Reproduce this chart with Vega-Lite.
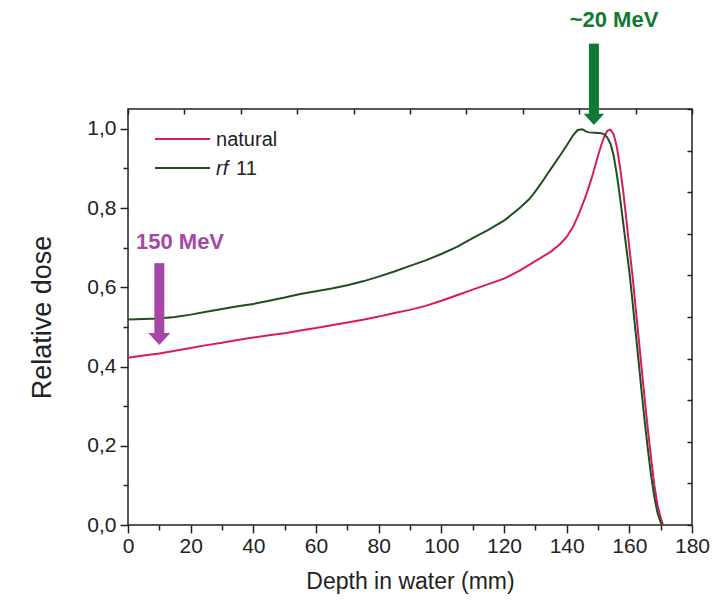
{
  "$schema": "https://vega.github.io/schema/vega-lite/v6.json",
  "width": 564,
  "height": 416,
  "autosize": {"type": "none"},
  "padding": {"left": 128, "top": 109, "right": 32, "bottom": 87},
  "background": "white",
  "config": {
    "view": {"stroke": "#222222", "strokeWidth": 1.5},
    "font": "Liberation Sans",
    "axis": {
      "domain": false,
      "grid": false,
      "tickColor": "#222222",
      "tickWidth": 1.5,
      "labelColor": "#222222",
      "labelFont": "Liberation Sans",
      "labelFontSize": 21,
      "titleFont": "Liberation Sans",
      "titleFontSize": 23,
      "titleFontWeight": "normal",
      "titleColor": "#222222"
    }
  },
  "datasets": {
    "curves": [
      {"depth": 0, "dose": 0.422, "series": "natural"},
      {"depth": 5, "dose": 0.428, "series": "natural"},
      {"depth": 10, "dose": 0.433, "series": "natural"},
      {"depth": 15, "dose": 0.44, "series": "natural"},
      {"depth": 20, "dose": 0.447, "series": "natural"},
      {"depth": 25, "dose": 0.454, "series": "natural"},
      {"depth": 30, "dose": 0.46, "series": "natural"},
      {"depth": 35, "dose": 0.467, "series": "natural"},
      {"depth": 40, "dose": 0.473, "series": "natural"},
      {"depth": 45, "dose": 0.479, "series": "natural"},
      {"depth": 50, "dose": 0.484, "series": "natural"},
      {"depth": 55, "dose": 0.491, "series": "natural"},
      {"depth": 60, "dose": 0.497, "series": "natural"},
      {"depth": 65, "dose": 0.504, "series": "natural"},
      {"depth": 70, "dose": 0.511, "series": "natural"},
      {"depth": 75, "dose": 0.518, "series": "natural"},
      {"depth": 80, "dose": 0.526, "series": "natural"},
      {"depth": 85, "dose": 0.535, "series": "natural"},
      {"depth": 90, "dose": 0.543, "series": "natural"},
      {"depth": 95, "dose": 0.553, "series": "natural"},
      {"depth": 100, "dose": 0.566, "series": "natural"},
      {"depth": 105, "dose": 0.58, "series": "natural"},
      {"depth": 110, "dose": 0.594, "series": "natural"},
      {"depth": 115, "dose": 0.608, "series": "natural"},
      {"depth": 120, "dose": 0.622, "series": "natural"},
      {"depth": 125, "dose": 0.642, "series": "natural"},
      {"depth": 130, "dose": 0.666, "series": "natural"},
      {"depth": 135, "dose": 0.69, "series": "natural"},
      {"depth": 138, "dose": 0.71, "series": "natural"},
      {"depth": 140, "dose": 0.727, "series": "natural"},
      {"depth": 142, "dose": 0.752, "series": "natural"},
      {"depth": 144, "dose": 0.787, "series": "natural"},
      {"depth": 146, "dose": 0.828, "series": "natural"},
      {"depth": 148, "dose": 0.876, "series": "natural"},
      {"depth": 150, "dose": 0.932, "series": "natural"},
      {"depth": 151, "dose": 0.958, "series": "natural"},
      {"depth": 152, "dose": 0.98, "series": "natural"},
      {"depth": 153, "dose": 0.995, "series": "natural"},
      {"depth": 154, "dose": 0.998, "series": "natural"},
      {"depth": 155, "dose": 0.986, "series": "natural"},
      {"depth": 156, "dose": 0.955, "series": "natural"},
      {"depth": 157, "dose": 0.905, "series": "natural"},
      {"depth": 158, "dose": 0.845, "series": "natural"},
      {"depth": 159, "dose": 0.775, "series": "natural"},
      {"depth": 160, "dose": 0.7, "series": "natural"},
      {"depth": 161, "dose": 0.63, "series": "natural"},
      {"depth": 162, "dose": 0.55, "series": "natural"},
      {"depth": 163, "dose": 0.47, "series": "natural"},
      {"depth": 164, "dose": 0.39, "series": "natural"},
      {"depth": 165, "dose": 0.31, "series": "natural"},
      {"depth": 166, "dose": 0.235, "series": "natural"},
      {"depth": 167, "dose": 0.165, "series": "natural"},
      {"depth": 168, "dose": 0.1, "series": "natural"},
      {"depth": 169, "dose": 0.05, "series": "natural"},
      {"depth": 170, "dose": 0.018, "series": "natural"},
      {"depth": 170.8, "dose": 0.0, "series": "natural"},
      {"depth": 0, "dose": 0.519, "series": "rf11"},
      {"depth": 5, "dose": 0.52, "series": "rf11"},
      {"depth": 10, "dose": 0.521, "series": "rf11"},
      {"depth": 15, "dose": 0.525, "series": "rf11"},
      {"depth": 20, "dose": 0.531, "series": "rf11"},
      {"depth": 25, "dose": 0.538, "series": "rf11"},
      {"depth": 30, "dose": 0.545, "series": "rf11"},
      {"depth": 35, "dose": 0.552, "series": "rf11"},
      {"depth": 40, "dose": 0.558, "series": "rf11"},
      {"depth": 45, "dose": 0.566, "series": "rf11"},
      {"depth": 50, "dose": 0.574, "series": "rf11"},
      {"depth": 55, "dose": 0.583, "series": "rf11"},
      {"depth": 60, "dose": 0.59, "series": "rf11"},
      {"depth": 65, "dose": 0.597, "series": "rf11"},
      {"depth": 70, "dose": 0.605, "series": "rf11"},
      {"depth": 75, "dose": 0.615, "series": "rf11"},
      {"depth": 80, "dose": 0.627, "series": "rf11"},
      {"depth": 85, "dose": 0.64, "series": "rf11"},
      {"depth": 90, "dose": 0.654, "series": "rf11"},
      {"depth": 95, "dose": 0.668, "series": "rf11"},
      {"depth": 100, "dose": 0.684, "series": "rf11"},
      {"depth": 105, "dose": 0.702, "series": "rf11"},
      {"depth": 110, "dose": 0.724, "series": "rf11"},
      {"depth": 115, "dose": 0.745, "series": "rf11"},
      {"depth": 120, "dose": 0.768, "series": "rf11"},
      {"depth": 125, "dose": 0.8, "series": "rf11"},
      {"depth": 128, "dose": 0.822, "series": "rf11"},
      {"depth": 130, "dose": 0.842, "series": "rf11"},
      {"depth": 132, "dose": 0.864, "series": "rf11"},
      {"depth": 134, "dose": 0.888, "series": "rf11"},
      {"depth": 136, "dose": 0.911, "series": "rf11"},
      {"depth": 138, "dose": 0.934, "series": "rf11"},
      {"depth": 140, "dose": 0.958, "series": "rf11"},
      {"depth": 142, "dose": 0.983, "series": "rf11"},
      {"depth": 143.5, "dose": 0.997, "series": "rf11"},
      {"depth": 145, "dose": 0.999, "series": "rf11"},
      {"depth": 146, "dose": 0.994, "series": "rf11"},
      {"depth": 147, "dose": 0.991, "series": "rf11"},
      {"depth": 149, "dose": 0.99, "series": "rf11"},
      {"depth": 151, "dose": 0.989, "series": "rf11"},
      {"depth": 152, "dose": 0.986, "series": "rf11"},
      {"depth": 153, "dose": 0.978, "series": "rf11"},
      {"depth": 154, "dose": 0.962, "series": "rf11"},
      {"depth": 155, "dose": 0.932, "series": "rf11"},
      {"depth": 156, "dose": 0.885, "series": "rf11"},
      {"depth": 157, "dose": 0.828, "series": "rf11"},
      {"depth": 158, "dose": 0.765, "series": "rf11"},
      {"depth": 159, "dose": 0.702, "series": "rf11"},
      {"depth": 160, "dose": 0.64, "series": "rf11"},
      {"depth": 161, "dose": 0.565, "series": "rf11"},
      {"depth": 162, "dose": 0.488, "series": "rf11"},
      {"depth": 163, "dose": 0.41, "series": "rf11"},
      {"depth": 164, "dose": 0.33, "series": "rf11"},
      {"depth": 165, "dose": 0.255, "series": "rf11"},
      {"depth": 166, "dose": 0.185, "series": "rf11"},
      {"depth": 167, "dose": 0.122, "series": "rf11"},
      {"depth": 168, "dose": 0.07, "series": "rf11"},
      {"depth": 169, "dose": 0.03, "series": "rf11"},
      {"depth": 170.3, "dose": 0.0, "series": "rf11"}
    ],
    "legendLines": [
      {"x1": 8.6, "x2": 26.2, "y": 0.974, "series": "natural"},
      {"x1": 8.6, "x2": 26.2, "y": 0.901, "series": "rf11"}
    ],
    "legendPlain": [
      {"x": 28.1, "y": 0.972, "label": "natural"},
      {"x": 34.5, "y": 0.899, "label": "11"}
    ],
    "legendItalic": [
      {"x": 28.1, "y": 0.899, "label": "rf"}
    ],
    "purpleArrow": [
      {"x": 10.0, "top": 0.661, "bottom": 0.478, "head": 0.4697, "label": "150 MeV", "ly": 0.715, "lx": 16.6}
    ],
    "greenArrow": [
      {"x": 148.7, "top": 1.215, "bottom": 1.03, "head": 1.024, "label": "~20 MeV", "ly": 1.275, "lx": 155.1}
    ]
  },
  "resolve": {"axis": {"x": "independent", "y": "independent"}},
  "layer": [
    {
      "data": {"name": "curves"},
      "mark": {"type": "line", "strokeWidth": 2, "clip": false},
      "encoding": {
        "x": {
          "field": "depth", "type": "quantitative",
          "scale": {"domain": [0, 180], "nice": false, "zero": false},
          "axis": {
            "orient": "bottom",
            "values": [0, 10, 20, 30, 40, 50, 60, 70, 80, 90, 100, 110, 120, 130, 140, 150, 160, 170, 180],
            "labelExpr": "datum.value % 20 === 0 ? datum.label : ''",
            "tickSize": {"condition": {"test": "datum.value % 20 === 0", "value": 8}, "value": 5},
            "labelPadding": 2,
            "labelFlush": false,
            "title": "Depth in water (mm)",
            "titlePadding": 14
          }
        },
        "y": {
          "field": "dose", "type": "quantitative",
          "scale": {"domain": [0, 1.05], "nice": false, "zero": false},
          "axis": {
            "orient": "left",
            "values": [0, 0.1, 0.2, 0.3, 0.4, 0.5, 0.6, 0.7, 0.8, 0.9, 1.0],
            "format": ".1f",
            "labelExpr": "round(datum.value * 10) % 2 === 0 ? replace(datum.label, '.', ',') : ''",
            "tickSize": {"condition": {"test": "round(datum.value * 10) % 2 === 0", "value": 8}, "value": 5},
            "labelPadding": 4,
            "labelFlush": false,
            "title": "Relative dose",
            "titleFontSize": 27,
            "titlePadding": 30
          }
        },
        "color": {
          "field": "series", "type": "nominal",
          "scale": {"domain": ["natural", "rf11"], "range": ["#d81b60", "#1f4f1f"]},
          "legend": null
        }
      }
    },
    {
      "data": {"name": "legendLines"},
      "mark": {"type": "rule", "strokeWidth": 2},
      "encoding": {
        "x": {
          "field": "x1", "type": "quantitative",
          "scale": {"domain": [0, 180], "nice": false, "zero": false},
          "axis": {
            "orient": "top",
            "values": [0, 18, 36, 54, 72, 90, 108, 126, 144, 162, 180],
            "labels": false,
            "tickSize": -5,
            "title": null
          }
        },
        "x2": {"field": "x2"},
        "y": {
          "field": "y", "type": "quantitative",
          "scale": {"domain": [0, 1.05], "nice": false, "zero": false},
          "axis": {
            "orient": "right",
            "values": [0, 0.105, 0.21, 0.315, 0.42, 0.525, 0.63, 0.735, 0.84, 0.945, 1.05],
            "labels": false,
            "tickSize": -5,
            "title": null
          }
        },
        "color": {"field": "series", "type": "nominal", "legend": null}
      }
    },
    {
      "data": {"name": "legendPlain"},
      "mark": {"type": "text", "align": "left", "baseline": "middle", "fontSize": 20, "font": "Liberation Sans", "color": "#222222"},
      "encoding": {
        "x": {"field": "x", "type": "quantitative", "axis": null},
        "y": {"field": "y", "type": "quantitative", "axis": null},
        "text": {"field": "label"}
      }
    },
    {
      "data": {"name": "legendItalic"},
      "mark": {"type": "text", "align": "left", "baseline": "middle", "fontSize": 20, "fontStyle": "italic", "font": "Liberation Sans", "color": "#222222"},
      "encoding": {
        "x": {"field": "x", "type": "quantitative", "axis": null},
        "y": {"field": "y", "type": "quantitative", "axis": null},
        "text": {"field": "label"}
      }
    },
    {
      "data": {"name": "purpleArrow"},
      "layer": [
        {
          "mark": {"type": "rule", "strokeWidth": 10, "color": "#a647a8", "clip": false},
          "encoding": {
            "x": {"field": "x", "type": "quantitative", "axis": null},
            "y": {"field": "top", "type": "quantitative", "axis": null},
            "y2": {"field": "bottom"}
          }
        },
        {
          "mark": {"type": "point", "shape": "M-1,-0.545L1,-0.545L0,0.545Z", "size": 484, "filled": true, "opacity": 1, "color": "#a647a8", "clip": false},
          "encoding": {
            "x": {"field": "x", "type": "quantitative", "axis": null},
            "y": {"field": "head", "type": "quantitative", "axis": null}
          }
        },
        {
          "mark": {"type": "text", "fontSize": 22, "fontWeight": "bold", "font": "Liberation Sans", "color": "#a647a8", "align": "center", "baseline": "middle", "clip": false},
          "encoding": {
            "x": {"field": "lx", "type": "quantitative", "axis": null},
            "y": {"field": "ly", "type": "quantitative", "axis": null},
            "text": {"field": "label"}
          }
        }
      ]
    },
    {
      "data": {"name": "greenArrow"},
      "layer": [
        {
          "mark": {"type": "rule", "strokeWidth": 10, "color": "#0f7a34", "clip": false},
          "encoding": {
            "x": {"field": "x", "type": "quantitative", "axis": null},
            "y": {"field": "top", "type": "quantitative", "axis": null},
            "y2": {"field": "bottom"}
          }
        },
        {
          "mark": {"type": "point", "shape": "M-1,-0.55L1,-0.55L0,0.55Z", "size": 420, "filled": true, "opacity": 1, "color": "#0f7a34", "clip": false},
          "encoding": {
            "x": {"field": "x", "type": "quantitative", "axis": null},
            "y": {"field": "head", "type": "quantitative", "axis": null}
          }
        },
        {
          "mark": {"type": "text", "fontSize": 22, "fontWeight": "bold", "font": "Liberation Sans", "color": "#0f7a34", "align": "center", "baseline": "middle", "clip": false},
          "encoding": {
            "x": {"field": "lx", "type": "quantitative", "axis": null},
            "y": {"field": "ly", "type": "quantitative", "axis": null},
            "text": {"field": "label"}
          }
        }
      ]
    }
  ]
}
